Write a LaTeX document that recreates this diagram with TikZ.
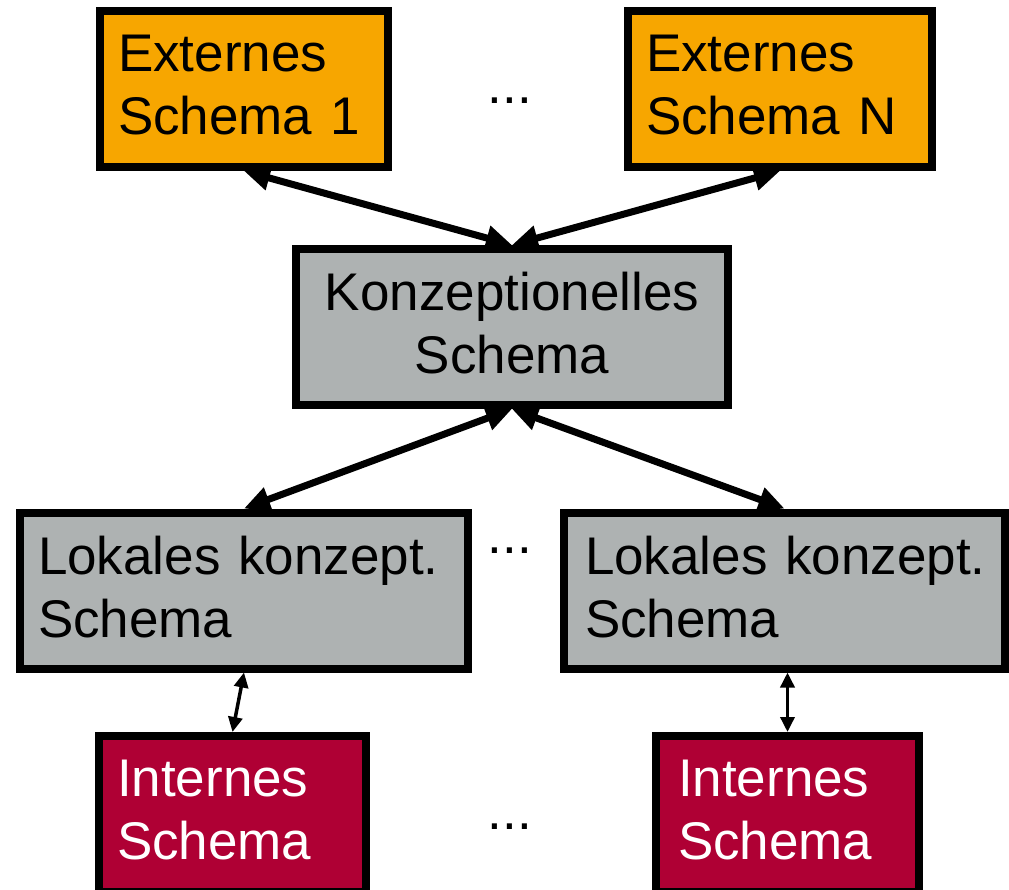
\documentclass[tikz,border=0pt]{standalone}
\usepackage{fontspec}
\setmainfont{Liberation Sans}
\usetikzlibrary{arrows.meta}
\definecolor{extorange}{RGB}{247,166,0}
\definecolor{konzgray}{RGB}{174,178,178}
\definecolor{intred}{RGB}{175,0,52}
\tikzset{
  schemabox/.style={draw=black, line width=8pt, rectangle, minimum height=156pt,
    inner xsep=18pt, inner ysep=0pt, align=left,
    font=\fontsize{53}{63}\selectfont},
  extbox/.style={schemabox, fill=extorange},
  konzbox/.style={schemabox, fill=konzgray},
  intbox/.style={schemabox, fill=intred, text=white},
  bigarrow/.style={line width=7pt, {Triangle[length=26pt,width=24pt]}-{Triangle[length=26pt,width=24pt]}},
  smallarrow/.style={line width=3.5pt, {Triangle[length=15pt,width=14pt]}-{Triangle[length=15pt,width=14pt]}},
  dotsnode/.style={anchor=base, inner sep=0pt, font=\fontsize{53}{63}\selectfont}
}
\newcommand{\dpfix}{\rule[-8pt]{0pt}{8pt}}
\begin{document}
\begin{tikzpicture}[x=1pt,y=-1pt]
\useasboundingbox (0,0) rectangle (1009,890);
\node[extbox, minimum width=288pt, text width=252pt] (e1) at (244,89) {Externes\\Schema 1\dpfix};
\node[extbox, minimum width=304pt, text width=268pt] (en) at (780,89) {Externes\\Schema N\dpfix};
\node[konzbox, minimum width=432pt, text width=396pt, align=center] (k) at (512,327) {Konzeptionelles\\Schema\dpfix};
\node[konzbox, minimum width=448pt, text width=412pt] (l1) at (244,590.5) {Lokales konzept.\\Schema\dpfix};
\node[konzbox, minimum width=441pt, text width=405pt, inner xsep=18pt] (l2) at (784.5,590.5) {\hspace*{3pt}\mbox{Lokales konzept.}\\\hspace*{3pt}Schema\dpfix};
\node[intbox, minimum width=267pt, text width=231pt] (i1) at (232.5,814) {Internes\\Schema\dpfix};
\node[intbox, minimum width=255pt, text width=219pt, inner xsep=22pt] (i2) at (787.5,814) {Internes\\Schema\dpfix};
\node[dotsnode] (d1) at (510,104) {...};
\node[dotsnode] (d2) at (510,553) {...};
\node[dotsnode] (d3) at (510,829) {...};
\draw[bigarrow] (e1.south) -- (k.north);
\draw[bigarrow] (en.south) -- (k.north);
\draw[bigarrow] (k.south) -- (l1.north);
\draw[bigarrow] (k.south) -- (l2.north);
\draw[smallarrow] (l1.south) -- (i1.north);
\draw[smallarrow] (l2.south -| i2.north) -- (i2.north);
\end{tikzpicture}
\end{document}
